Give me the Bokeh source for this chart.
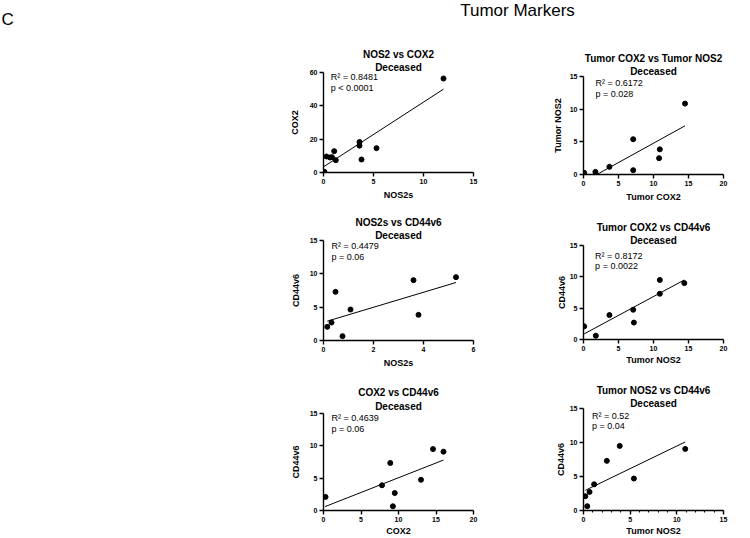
from bokeh.plotting import figure
from bokeh.layouts import column, row
from bokeh.models import Range1d, FixedTicker, Label, Spacer, Title
from bokeh.embed import file_html
from bokeh.resources import INLINE

FONT = "Liberation Sans"

# ---------------- data ----------------
main_title = "Tumor Markers"
panel_letter = "C"
subtitle = "Deceased"

# Panel 1: NOS2 vs COX2
p1_title = "NOS2 vs COX2"
p1_xlabel, p1_ylabel = "NOS2s", "COX2"
p1_x = [0.1, 0.3, 0.65, 0.85, 1.07, 1.23, 3.6, 3.6, 3.8, 5.3, 12.0]
p1_y = [0.4, 9.6, 9.0, 9.2, 12.8, 7.4, 18.3, 16.1, 7.8, 14.6, 56.4]
p1_fit_x = [0.0, 12.0]
p1_fit_y = [3.4, 50.0]
p1_r2, p1_p = "0.8481", "< 0.0001"
p1_xticks = [0, 5, 10, 15]
p1_yticks = [0, 20, 40, 60]

# Panel 2: Tumor COX2 vs Tumor NOS2
p2_title = "Tumor COX2 vs Tumor NOS2"
p2_xlabel, p2_ylabel = "Tumor COX2", "Tumor NOS2"
p2_x = [0.1, 1.7, 3.7, 7.1, 7.1, 10.8, 10.9, 14.5]
p2_y = [0.25, 0.4, 1.17, 5.4, 0.66, 2.5, 3.85, 10.85]
p2_fit_x = [1.9, 14.5]
p2_fit_y = [0.0, 7.45]
p2_r2, p2_p = "0.6172", "= 0.028"
p2_xticks = [0, 5, 10, 15, 20]
p2_yticks = [0, 5, 10, 15]

# Panel 3: NOS2s vs CD44v6
p3_title = "NOS2s vs CD44v6"
p3_xlabel, p3_ylabel = "NOS2s", "CD44v6"
p3_x = [0.15, 0.32, 0.48, 0.76, 1.08, 3.6, 3.8, 5.3]
p3_y = [2.05, 2.7, 7.3, 0.65, 4.65, 9.05, 3.85, 9.5]
p3_fit_x = [0.15, 5.3]
p3_fit_y = [2.9, 8.7]
p3_r2, p3_p = "0.4479", "= 0.06"
p3_xticks = [0, 2, 4, 6]
p3_yticks = [0, 5, 10, 15]

# Panel 4: Tumor COX2 vs CD44v6
p4_title = "Tumor COX2 vs CD44v6"
p4_xlabel, p4_ylabel = "Tumor NOS2", "CD44v6"
p4_x = [0.1, 1.76, 3.7, 7.1, 7.2, 10.9, 10.9, 14.4]
p4_y = [2.1, 0.6, 3.9, 4.75, 2.7, 9.5, 7.3, 9.0]
p4_fit_x = [0.1, 14.4]
p4_fit_y = [0.9, 9.5]
p4_r2, p4_p = "0.8172", "= 0.0022"
p4_xticks = [0, 5, 10, 15, 20]
p4_yticks = [0, 5, 10, 15]

# Panel 5: COX2 vs CD44v6
p5_title = "COX2 vs CD44v6"
p5_xlabel, p5_ylabel = "COX2", "CD44v6"
p5_x = [0.27, 7.8, 8.9, 9.25, 9.5, 13.0, 14.6, 16.0]
p5_y = [2.1, 3.9, 7.35, 0.65, 2.7, 4.75, 9.5, 9.1]
p5_fit_x = [0.2, 16.0]
p5_fit_y = [0.6, 7.8]
p5_r2, p5_p = "0.4639", "= 0.06"
p5_xticks = [0, 5, 10, 15, 20]
p5_yticks = [0, 5, 10, 15]

# Panel 6: Tumor NOS2 vs CD44v6
p6_title = "Tumor NOS2 vs CD44v6"
p6_xlabel, p6_ylabel = "Tumor NOS2", "CD44v6"
p6_x = [0.2, 0.4, 0.65, 1.14, 2.5, 3.88, 5.4, 10.9]
p6_y = [2.1, 0.63, 2.73, 3.85, 7.3, 9.5, 4.7, 9.06]
p6_fit_x = [0.2, 10.9]
p6_fit_y = [2.97, 10.08]
p6_r2, p6_p = "0.52", "= 0.04"
p6_xticks = [0, 5, 10, 15]
p6_yticks = [0, 5, 10, 15]
p6_xminor = list(range(0, 16))


def make_panel(x, y, fx, fy, title, xlabel, ylabel, xticks, yticks, r2, pv,
               W, H, L, R, T, B, xls, yls, tpos, ppos, toff=0, xminor=None, tstand=0):
    p = figure(width=W, height=H, min_border_left=L, min_border_right=R,
               min_border_top=T, min_border_bottom=B,
               x_range=Range1d(xticks[0], xticks[-1]),
               y_range=Range1d(yticks[0], yticks[-1]),
               title=title, output_backend="svg", toolbar_location=None, tools="")
    t = p.title
    t.align = "center"
    t.text_font = FONT
    t.text_font_size = "10px"
    t.text_font_style = "bold"
    t.text_color = "black"
    t.standoff = 0
    t.offset = toff
    p.add_layout(Title(text=subtitle, align="center", text_font=FONT,
                       text_font_size="10px", text_font_style="bold",
                       text_color="black", standoff=tstand, offset=toff), "above")
    p.grid.visible = False
    p.outline_line_color = None
    p.background_fill_color = "white"
    p.border_fill_color = "white"
    p.xaxis.ticker = FixedTicker(ticks=xticks, minor_ticks=xminor or [])
    p.yaxis.ticker = FixedTicker(ticks=yticks)
    p.xaxis.axis_label = xlabel
    p.yaxis.axis_label = ylabel
    for ax in (p.xaxis[0], p.yaxis[0]):
        ax.axis_line_width = 1.4
        ax.axis_line_color = "black"
        ax.major_tick_line_width = 1.4
        ax.major_tick_line_color = "black"
        ax.major_tick_out = 4
        ax.major_tick_in = 0
        ax.minor_tick_out = 2
        ax.minor_tick_in = 0
        ax.minor_tick_line_width = 1.1
        ax.minor_tick_line_color = "black"
        ax.major_label_text_font = FONT
        ax.major_label_text_font_size = "7px"
        ax.major_label_text_font_style = "bold"
        ax.major_label_text_color = "black"
        ax.major_label_standoff = 2
        ax.axis_label_text_font = FONT
        ax.axis_label_text_font_size = "9px"
        ax.axis_label_text_font_style = "bold"
        ax.axis_label_text_color = "black"
    p.xaxis.axis_label_standoff = xls
    p.yaxis.axis_label_standoff = yls
    p.line(fx, fy, line_color="black", line_width=1)
    p.scatter(x, y, size=5, fill_color="black", line_color="black")
    p.add_layout(Label(x=tpos[0], y=tpos[1], text="R\u00b2 = " + r2,
                       text_font=FONT, text_font_size="9px", text_color="black",
                       text_baseline="middle"))
    p.add_layout(Label(x=ppos[0], y=ppos[1], text="p " + pv,
                       text_font=FONT, text_font_size="9px", text_color="black",
                       text_baseline="middle"))
    return p


f1 = make_panel(p1_x, p1_y, p1_fit_x, p1_fit_y, p1_title, p1_xlabel, p1_ylabel,
                p1_xticks, p1_yticks, p1_r2, p1_p,
                260, 169, 53, 57, 36, 33, 3, 7, (0.73, 57.2), (0.73, 50.6))
f3 = make_panel(p3_x, p3_y, p3_fit_x, p3_fit_y, p3_title, p3_xlabel, p3_ylabel,
                p3_xticks, p3_yticks, p3_r2, p3_p,
                260, 170, 53, 57, 35, 35, 3, 6, (0.32, 14.15), (0.32, 12.5))
f5 = make_panel(p5_x, p5_y, p5_fit_x, p5_fit_y, p5_title, p5_xlabel, p5_ylabel,
                p5_xticks, p5_yticks, p5_r2, p5_p,
                260, 163, 53, 57, 38, 26, 1, 6, (1.07, 14.25), (1.07, 12.64), tstand=3)

f2 = make_panel(p2_x, p2_y, p2_fit_x, p2_fit_y, p2_title, p2_xlabel, p2_ylabel,
                p2_xticks, p2_yticks, p2_r2, p2_p,
                220, 174, 52, 21, 40, 36, 3, 4, (1.72, 13.94), (1.72, 12.32), toff=4)
f4 = make_panel(p4_x, p4_y, p4_fit_x, p4_fit_y, p4_title, p4_xlabel, p4_ylabel,
                p4_xticks, p4_yticks, p4_r2, p4_p,
                220, 162, 53, 27, 35, 33, 1, 0, (1.66, 13.4), (1.66, 11.7), toff=6)
f6 = make_panel(p6_x, p6_y, p6_fit_x, p6_fit_y, p6_title, p6_xlabel, p6_ylabel,
                p6_xticks, p6_yticks, p6_r2, p6_p,
                220, 166, 53, 14, 36, 27, 1, 1, (0.92, 13.92), (0.92, 12.46), toff=4,
                xminor=p6_xminor)

header = figure(width=750, height=36, x_range=Range1d(0, 750), y_range=Range1d(0, 36),
                min_border=0, toolbar_location=None, tools="", output_backend="svg",
                x_axis_type=None, y_axis_type=None, title=None)
header.outline_line_color = None
header.add_layout(Label(x=517, y=26.5, text=main_title, text_font=FONT,
                        text_font_size="17px", text_align="center",
                        text_baseline="alphabetic", text_color="black"))
header.add_layout(Label(x=1, y=17, text=panel_letter, text_font=FONT,
                        text_font_size="17px", text_align="left",
                        text_baseline="alphabetic", text_color="black"))

left_col = column(f1, f3, f5, spacing=0)
right_col = column(f2, f4, f6, spacing=0)
body = row(Spacer(width=270, height=502), left_col, right_col, spacing=0)
root = column(header, body, spacing=0)

open("out.html", "w").write(file_html(root, INLINE))
